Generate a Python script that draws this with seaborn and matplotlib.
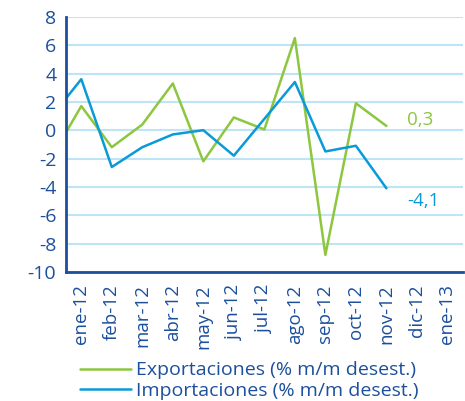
import numpy as np
import pandas as pd
import matplotlib
matplotlib.use("Agg")
import matplotlib.pyplot as plt
import seaborn as sns

# ---- Data ----
months = ["dic-11", "ene-12", "feb-12", "mar-12", "abr-12", "may-12", "jun-12",
          "jul-12", "ago-12", "sep-12", "oct-12", "nov-12", "dic-12", "ene-13"]
exportaciones = [-2.0, 1.7, -1.2, 0.4, 3.3, -2.2, 0.9, 0.05, 6.5, -8.8, 1.9, 0.3, np.nan, np.nan]
importaciones = [0.9, 3.6, -2.6, -1.2, -0.3, 0.0, -1.8, 0.8, 3.4, -1.5, -1.1, -4.1, np.nan, np.nan]
series_names = ["Exportaciones (% m/m desest.)", "Importaciones (% m/m desest.)"]
last_labels = ["0,3", "-4,1"]

green = "#8dc63f"
blue = "#0a9ad7"
navy = "#1c4f9c"
grid_col = "#bfe4f6"

df = pd.DataFrame({"pos": np.arange(len(months)), "mes": months,
                   series_names[0]: exportaciones, series_names[1]: importaciones})
long_df = df.melt(id_vars=["pos", "mes"], var_name="serie", value_name="valor")

sns.set_style("white")
plt.rcParams["font.family"] = ["Open Sans", "DejaVu Sans"]
plt.rcParams["axes.unicode_minus"] = False

fig, ax = plt.subplots(figsize=(4.65, 4.01), dpi=100)
fig.subplots_adjust(left=0.142, right=0.995, top=0.958, bottom=0.322)

sns.lineplot(data=long_df, x="pos", y="valor", hue="serie", palette=[green, blue],
             linewidth=1.8, ax=ax, legend=False, sort=False)

ax.set_xlim(0.5, len(months) - 0.5)
ax.set_ylim(-10, 8)
ax.set_yticks(np.arange(-10, 9, 2))
ax.yaxis.grid(True, color=grid_col, linewidth=1.5)
ax.set_axisbelow(True)

ax.set_xticks(np.arange(1, len(months)))
ax.set_xticklabels(months[1:], rotation=90)
ax.set_xticks(np.arange(0.5, len(months), 1), minor=True)
ax.tick_params(axis="x", which="major", length=0, pad=9, labelsize=13.5, labelcolor=navy)
ax.tick_params(axis="x", which="minor", length=4, width=1.5, color=navy, direction="out")
ax.tick_params(axis="y", length=4, width=1.5, color=navy, labelsize=14, labelcolor=navy, pad=3)
ax.set_xlabel("")
ax.set_ylabel("")

for side in ["top", "right"]:
    ax.spines[side].set_visible(False)
for side in ["left", "bottom"]:
    ax.spines[side].set_color(navy)
    ax.spines[side].set_linewidth(2)

# End value labels
last_idx = months.index("nov-12")
ax.text(last_idx + 0.68, 0.75, last_labels[0], color=green, fontsize=13.5, va="center")
ax.text(last_idx + 0.68, -5.0, last_labels[1], color=blue, fontsize=13.5, va="center")

handles = [plt.Line2D([], [], color=green, linewidth=1.8),
           plt.Line2D([], [], color=blue, linewidth=1.8)]
leg = fig.legend(handles, series_names, loc="lower left", bbox_to_anchor=(0.172, 0.003),
                 frameon=False, fontsize=14, handlelength=2.6, handletextpad=0.3,
                 labelspacing=0.12, borderaxespad=0, borderpad=0)
for t in leg.get_texts():
    t.set_color(navy)

fig.savefig("out.png", dpi=100)
